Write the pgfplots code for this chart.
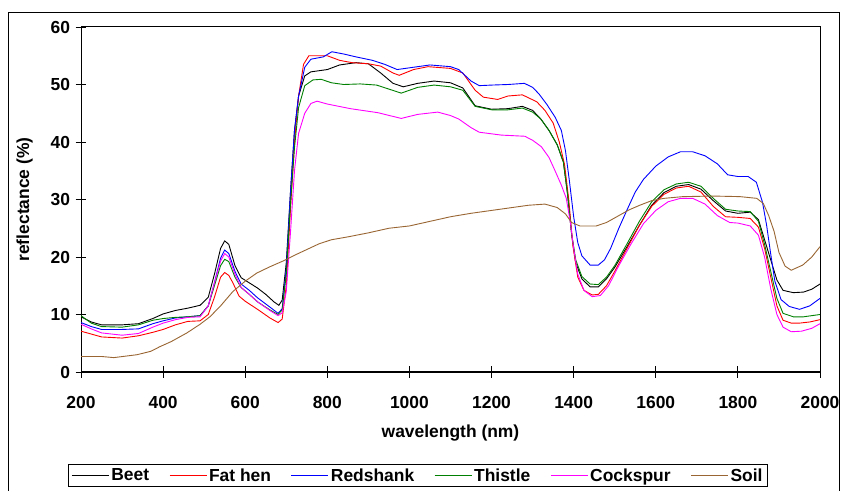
\documentclass[border=0pt]{standalone}
\usepackage{fontspec}
\setmainfont{Liberation Sans}
\usepackage{pgfplots}
\pgfplotsset{compat=1.18}
\definecolor{cbeet}{HTML}{000000}
\definecolor{cfathen}{HTML}{FF0000}
\definecolor{credshank}{HTML}{0000FF}
\definecolor{cthistle}{HTML}{008000}
\definecolor{ccockspur}{HTML}{FF00FF}
\definecolor{csoil}{HTML}{996633}
\newcommand{\chfont}{\fontsize{17.5}{20}\selectfont\bfseries}
\begin{document}
\begin{tikzpicture}
\path[use as bounding box] (0bp,0bp) rectangle (842bp,491bp);
\draw[black, line width=1.2bp] (8.5bp,-10bp) -- (8.5bp,478.5bp) -- (839.5bp,478.5bp) -- (839.5bp,-10bp);
% plain box round the plot area
\begin{axis}[
  at={(81bp,119bp)}, anchor=south west,
  scale only axis, width=739bp, height=345bp,
  xmin=200, xmax=2000, ymin=0, ymax=60,
  xtick=\empty, ytick=\empty,
  axis line style={black, line width=1bp},
]
\end{axis}
\begin{axis}[
  at={(81bp,119bp)}, anchor=south west,
  scale only axis, width=739bp, height=345bp,
  xmin=200, xmax=2000, ymin=0, ymax=60,
  axis x line*=bottom, axis y line*=left,
  xtick={200,400,...,2000}, ytick={0,10,...,60},
  tick align=center,
  major tick length=11bp,
  axis line style={black, line width=1bp, -},
  tick style={black, line width=1bp},
  /pgf/number format/assume math mode=true,
  /pgf/number format/1000 sep={},
  tick label style={font=\chfont},
  xticklabel style={yshift=-15bp},
  yticklabel style={xshift=-2bp},
  xlabel={wavelength (nm)}, ylabel={reflectance (\%)},
  label style={font=\chfont},
  xlabel style={yshift=-10bp},
  ylabel style={yshift=11bp},
  every axis plot/.append style={line width=0.9bp},
  legend columns=6,
  legend style={at={(0.456,-0.267)}, anchor=north, draw=black, line width=0.8bp,
    font=\chfont, inner xsep=3bp, inner ysep=2bp,
    /tikz/every even column/.append style={column sep=18bp}},
  legend image code/.code={\draw[#1] (0bp,0bp) -- (37bp,0bp);},
]
\addplot[cbeet] coordinates {
(200,9.6)(225,8.7)(250,8.2)(300,8.2)(340,8.4)(375,9.3)(400,10.1)(430,10.7)(460,11.1)(490,11.6)(510,13.0)(525,17)(540,21.5)(550,22.8)(560,22.2)(575,18.5)(590,16.4)(610,15.5)(630,14.6)(650,13.5)(670,12.2)(682,11.6)(690,12.5)(700,19)(710,31)(720,42)(730,48)(745,51.5)(760,52.2)(800,52.6)(830,53.4)(870,53.8)(900,53.6)(930,52.0)(960,50.2)(985,49.6)(1020,50.2)(1060,50.6)(1100,50.3)(1130,49.4)(1160,46.3)(1200,45.7)(1240,45.8)(1275,46.2)(1300,45.5)(1320,44.0)(1340,42.0)(1360,39.5)(1375,36.5)(1385,31)(1395,24)(1405,19)(1420,16.2)(1440,14.8)(1460,14.8)(1480,16.2)(1500,18.2)(1530,21.8)(1560,25.5)(1590,29.0)(1620,31.2)(1650,32.3)(1680,32.6)(1710,31.8)(1740,29.8)(1770,28.0)(1800,27.6)(1830,27.8)(1850,26.5)(1865,23.0)(1880,19.5)(1895,16)(1910,14.2)(1935,13.8)(1960,13.9)(1980,14.4)(2000,15.3)
};
\addlegendentry{Beet}
\addplot[cfathen] coordinates {
(200,7.1)(225,6.6)(250,6.1)(300,5.9)(340,6.3)(375,6.9)(400,7.4)(430,8.2)(460,8.8)(490,8.9)(510,10.0)(525,13.0)(540,16.5)(550,17.3)(560,16.8)(570,15.5)(585,13.2)(600,12.3)(630,10.9)(660,9.4)(680,8.6)(690,9.2)(700,15)(710,28)(720,40)(730,48)(742,53.5)(755,55.0)(800,55.0)(830,54.2)(860,53.8)(900,53.6)(930,53.2)(960,52.0)(975,51.6)(1010,52.6)(1045,53.1)(1100,52.8)(1130,52.0)(1160,49.0)(1180,47.8)(1215,47.4)(1240,48.0)(1275,48.2)(1310,47.0)(1330,45.5)(1350,43.3)(1365,40)(1378,36)(1388,30)(1398,22)(1410,16.5)(1425,14.2)(1445,13.4)(1460,13.5)(1480,15.0)(1500,17.5)(1530,21.5)(1560,25.5)(1590,28.8)(1620,30.9)(1650,32.0)(1680,32.3)(1710,31.3)(1740,28.8)(1770,27.0)(1800,26.9)(1830,26.7)(1850,25.2)(1865,21.5)(1880,16.5)(1895,11.5)(1910,9.0)(1930,8.5)(1950,8.5)(1975,8.7)(2000,9.1)
};
\addlegendentry{Fat hen}
\addplot[credshank] coordinates {
(200,8.6)(225,7.9)(250,7.4)(300,7.4)(340,7.5)(375,8.4)(400,8.9)(430,9.4)(460,9.6)(490,9.8)(510,11.5)(525,15.5)(540,19.8)(550,21.2)(560,20.6)(575,17.5)(590,15.3)(610,14.2)(630,12.9)(660,11.3)(680,10.2)(690,11.0)(700,18)(710,31)(720,42)(730,48)(745,53)(760,54.4)(790,54.8)(811,55.7)(840,55.3)(870,54.8)(910,54.2)(940,53.5)(970,52.6)(1000,52.9)(1050,53.4)(1100,53.1)(1120,52.6)(1150,50.6)(1170,49.8)(1200,49.9)(1240,50.0)(1280,50.2)(1300,49.5)(1315,48.4)(1335,46.5)(1355,44.3)(1370,42)(1380,38.5)(1390,33)(1400,27)(1410,22.5)(1420,20.2)(1440,18.6)(1460,18.6)(1475,19.5)(1490,21.5)(1510,25)(1530,28.2)(1550,31.3)(1570,33.5)(1600,35.8)(1630,37.4)(1660,38.3)(1690,38.3)(1720,37.6)(1750,36.2)(1775,34.3)(1800,34.0)(1825,34.0)(1845,33.0)(1860,29.5)(1870,25.5)(1880,20.5)(1890,15.8)(1905,12.6)(1925,11.4)(1950,10.9)(1975,11.5)(2000,12.8)
};
\addlegendentry{Redshank}
\addplot[cthistle] coordinates {
(200,9.8)(225,8.5)(250,7.9)(300,7.8)(340,8.2)(375,9.0)(400,9.3)(430,9.5)(460,9.6)(490,9.8)(510,11.5)(525,15.0)(540,18.5)(550,19.6)(560,19.2)(575,16.5)(590,14.7)(610,13.5)(630,12.2)(660,10.8)(680,10.0)(690,10.8)(700,17)(710,29)(720,39)(730,46)(745,49.8)(765,50.8)(785,50.9)(810,50.3)(840,50.0)(880,50.1)(920,49.9)(950,49.2)(980,48.5)(1020,49.5)(1060,49.9)(1100,49.6)(1130,49.0)(1160,46.2)(1200,45.6)(1240,45.6)(1275,45.9)(1300,45.2)(1320,44.0)(1340,42.0)(1360,39.5)(1375,36.5)(1385,31)(1395,24)(1405,19.5)(1420,16.6)(1440,15.3)(1460,15.2)(1480,16.5)(1500,18.5)(1530,22.3)(1560,26.2)(1590,29.6)(1620,31.7)(1650,32.7)(1680,33.0)(1710,32.3)(1740,30.2)(1770,28.3)(1800,28.0)(1830,27.9)(1850,26.2)(1865,22.2)(1880,17.5)(1895,12.8)(1910,10.2)(1935,9.6)(1960,9.6)(1980,9.8)(2000,10.0)
};
\addlegendentry{Thistle}
\addplot[ccockspur] coordinates {
(200,8.3)(225,7.5)(250,6.8)(300,6.4)(340,6.7)(375,7.8)(400,8.5)(430,9.1)(460,9.5)(490,9.6)(510,11.5)(525,15.5)(540,19.3)(550,20.6)(560,20.0)(575,17.0)(590,14.7)(610,13.5)(630,12.2)(660,10.7)(680,9.8)(690,10.3)(700,14)(710,24)(720,35)(730,41.5)(745,45.0)(760,46.7)(775,47.1)(800,46.6)(856,45.8)(923,45.1)(980,44.1)(1020,44.8)(1069,45.2)(1100,44.6)(1120,44.0)(1150,42.5)(1170,41.7)(1224,41.2)(1281,41.0)(1300,40.3)(1321,39.2)(1340,37.3)(1354,35.1)(1370,32.5)(1382,30.2)(1392,26)(1400,21.5)(1410,17)(1425,14.2)(1445,13.1)(1465,13.3)(1485,15.0)(1510,18.5)(1540,22.3)(1570,25.8)(1600,28.1)(1630,29.6)(1660,30.2)(1690,30.2)(1720,29.2)(1750,27.2)(1780,26.0)(1800,25.9)(1830,25.4)(1850,23.8)(1865,20.0)(1880,14.5)(1895,10.0)(1910,7.8)(1930,7.0)(1955,7.1)(1980,7.6)(2000,8.4)
};
\addlegendentry{Cockspur}
\addplot[csoil] coordinates {
(200,2.7)(250,2.7)(280,2.5)(336,3.0)(370,3.6)(392,4.4)(420,5.3)(458,6.8)(490,8.3)(514,9.6)(540,11.5)(570,14.0)(600,15.8)(628,17.2)(660,18.3)(692,19.3)(720,20.3)(750,21.3)(780,22.3)(810,23.0)(850,23.5)(900,24.2)(950,25.0)(1000,25.4)(1050,26.2)(1100,27.0)(1150,27.6)(1200,28.1)(1250,28.6)(1290,29.0)(1330,29.2)(1360,28.6)(1380,27.5)(1395,26.0)(1415,25.4)(1455,25.4)(1480,26.0)(1505,27.0)(1535,28.2)(1561,29.0)(1590,29.8)(1620,30.2)(1666,30.5)(1740,30.6)(1805,30.5)(1846,30.2)(1862,29.3)(1875,27.2)(1888,24.5)(1900,20.8)(1915,18.4)(1930,17.7)(1958,18.6)(1980,20.0)(2000,21.8)
};
\addlegendentry{Soil}
\end{axis}
\end{tikzpicture}
\end{document}
